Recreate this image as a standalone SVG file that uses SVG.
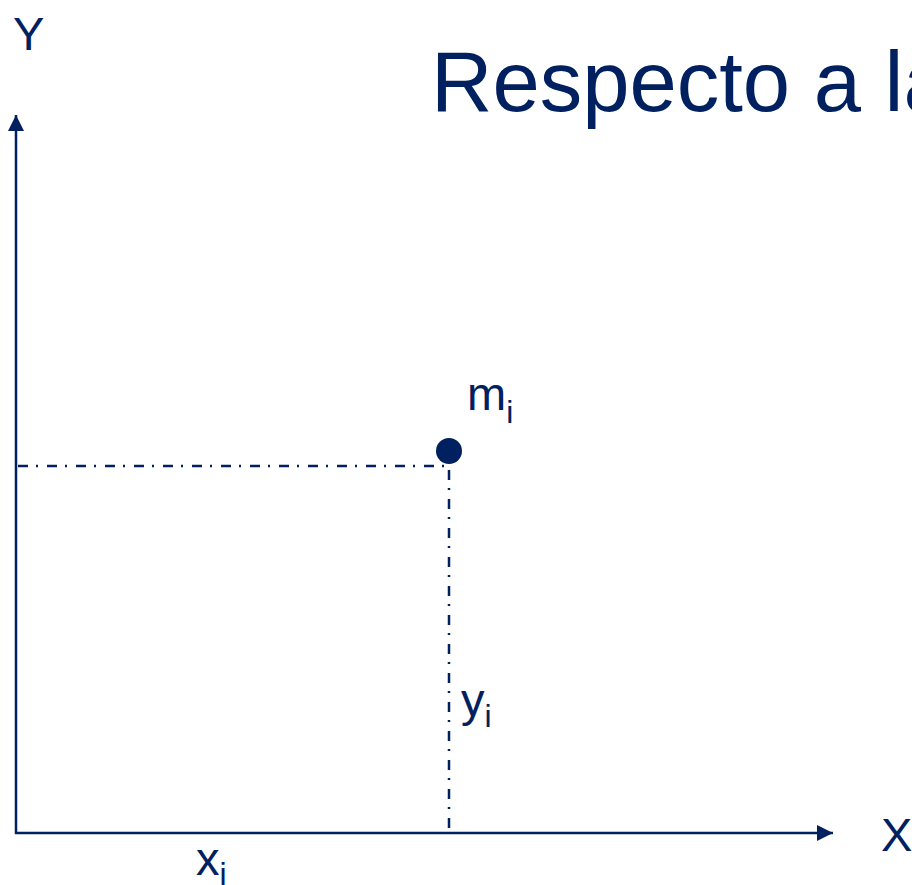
<svg xmlns="http://www.w3.org/2000/svg" width="912" height="885" viewBox="0 0 912 885">
  <defs>
    <style>
      .axis { stroke: #002060; stroke-width: 2.5; fill: none; }
      .guide { stroke: #002060; stroke-width: 2.5; fill: none; stroke-dasharray: 10 8 2 9; }
      .lbl { font-family: "Liberation Sans", Arial, sans-serif; fill: #002060; }
      .big { font-size: 47px; }
      .sub { font-size: 32px; }
    </style>
    <marker id="arrow" viewBox="0 0 16 16" refX="16" refY="8" markerWidth="16" markerHeight="16" markerUnits="userSpaceOnUse" orient="auto">
      <path d="M0,0 L16,8 L0,16 Z" fill="#002060"/>
    </marker>
  </defs>
  <rect width="912" height="885" fill="#ffffff"/>
  <text id="title" class="lbl" x="431" y="111" font-size="85">Respecto a la</text>
  <g id="connectors">
    <line class="axis" x1="16" y1="834" x2="16" y2="115" marker-end="url(#arrow)"/>
    <line class="axis" x1="15" y1="833" x2="833" y2="833" marker-end="url(#arrow)"/>
    <line class="guide" x1="18" y1="466" x2="449" y2="466"/>
    <line class="guide" x1="449" y1="470" x2="449" y2="833"/>
  </g>
  <g id="axis-y-label">
    <text class="lbl big" x="13" y="50">Y</text>
  </g>
  <g id="axis-x-label">
    <text class="lbl big" x="881" y="851">X</text>
  </g>
  <g id="point">
    <circle cx="449" cy="451" r="13" fill="#002060"/>
    <text class="lbl" x="467" y="410"><tspan class="big">m</tspan><tspan class="sub" dy="13">i</tspan></text>
  </g>
  <g id="label-yi">
    <text class="lbl" x="461" y="716"><tspan class="big">y</tspan><tspan class="sub" dy="11">i</tspan></text>
  </g>
  <g id="label-xi">
    <text class="lbl" x="196" y="875"><tspan class="big">x</tspan><tspan class="sub" dy="10">i</tspan></text>
  </g>
</svg>
